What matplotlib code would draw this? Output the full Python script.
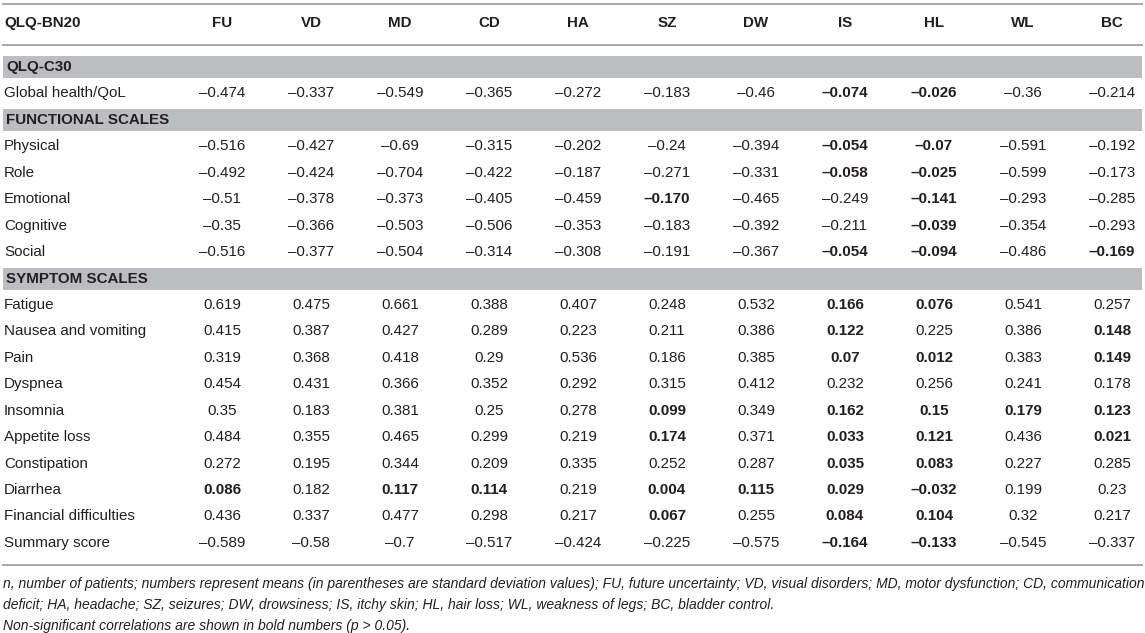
import matplotlib
matplotlib.use("Agg")
import matplotlib.pyplot as plt

plt.rcParams['font.family'] = ['Liberation Sans', 'DejaVu Sans']

# data
columns = ["FU", "VD", "MD", "CD", "HA", "SZ", "DW", "IS", "HL", "WL", "BC"]

sections = ["QLQ-C30", "FUNCTIONAL SCALES", "SYMPTOM SCALES"]

c30_labels = ["Global health/QoL"]
c30_values = [
    ["–0.474", "–0.337", "–0.549", "–0.365", "–0.272", "–0.183", "–0.46", "–0.074", "–0.026", "–0.36", "–0.214"],
]

functional_labels = ["Physical", "Role", "Emotional", "Cognitive", "Social"]
functional_values = [
    ["–0.516", "–0.427", "–0.69", "–0.315", "–0.202", "–0.24", "–0.394", "–0.054", "–0.07", "–0.591", "–0.192"],
    ["–0.492", "–0.424", "–0.704", "–0.422", "–0.187", "–0.271", "–0.331", "–0.058", "–0.025", "–0.599", "–0.173"],
    ["–0.51", "–0.378", "–0.373", "–0.405", "–0.459", "–0.170", "–0.465", "–0.249", "–0.141", "–0.293", "–0.285"],
    ["–0.35", "–0.366", "–0.503", "–0.506", "–0.353", "–0.183", "–0.392", "–0.211", "–0.039", "–0.354", "–0.293"],
    ["–0.516", "–0.377", "–0.504", "–0.314", "–0.308", "–0.191", "–0.367", "–0.054", "–0.094", "–0.486", "–0.169"],
]

symptom_labels = ["Fatigue", "Nausea and vomiting", "Pain", "Dyspnea", "Insomnia", "Appetite loss",
                  "Constipation", "Diarrhea", "Financial difficulties", "Summary score"]
symptom_values = [
    ["0.619", "0.475", "0.661", "0.388", "0.407", "0.248", "0.532", "0.166", "0.076", "0.541", "0.257"],
    ["0.415", "0.387", "0.427", "0.289", "0.223", "0.211", "0.386", "0.122", "0.225", "0.386", "0.148"],
    ["0.319", "0.368", "0.418", "0.29", "0.536", "0.186", "0.385", "0.07", "0.012", "0.383", "0.149"],
    ["0.454", "0.431", "0.366", "0.352", "0.292", "0.315", "0.412", "0.232", "0.256", "0.241", "0.178"],
    ["0.35", "0.183", "0.381", "0.25", "0.278", "0.099", "0.349", "0.162", "0.15", "0.179", "0.123"],
    ["0.484", "0.355", "0.465", "0.299", "0.219", "0.174", "0.371", "0.033", "0.121", "0.436", "0.021"],
    ["0.272", "0.195", "0.344", "0.209", "0.335", "0.252", "0.287", "0.035", "0.083", "0.227", "0.285"],
    ["0.086", "0.182", "0.117", "0.114", "0.219", "0.004", "0.115", "0.029", "–0.032", "0.199", "0.23"],
    ["0.436", "0.337", "0.477", "0.298", "0.217", "0.067", "0.255", "0.084", "0.104", "0.32", "0.217"],
    ["–0.589", "–0.58", "–0.7", "–0.517", "–0.424", "–0.225", "–0.575", "–0.164", "–0.133", "–0.545", "–0.337"],
]

# non-significant correlations (shown bold)
nonsig = {
    "Global health/QoL": ["IS", "HL"],
    "Physical": ["IS", "HL"],
    "Role": ["IS", "HL"],
    "Emotional": ["SZ", "HL"],
    "Cognitive": ["HL"],
    "Social": ["IS", "HL", "BC"],
    "Fatigue": ["IS", "HL"],
    "Nausea and vomiting": ["IS", "BC"],
    "Pain": ["IS", "HL", "BC"],
    "Insomnia": ["SZ", "IS", "HL", "WL", "BC"],
    "Appetite loss": ["SZ", "IS", "HL", "BC"],
    "Constipation": ["IS", "HL"],
    "Diarrhea": ["FU", "MD", "CD", "SZ", "DW", "IS", "HL"],
    "Financial difficulties": ["SZ", "IS", "HL"],
    "Summary score": ["IS", "HL"],
}

corner = "QLQ-BN20"
footnotes = [
    "n, number of patients; numbers represent means (in parentheses are standard deviation values); "
    "FU, future uncertainty; VD, visual disorders; MD, motor dysfunction; CD, communication",
    "deficit; HA, headache; SZ, seizures; DW, drowsiness; IS, itchy skin; HL, hair loss; "
    "WL, weakness of legs; BC, bladder control.",
    "Non-significant correlations are shown in bold numbers (p > 0.05).",
]

# layout (pixel coordinates)
W, H = 1145, 633
txt = "#231f20"
band_col = "#bcbdc0"
line_col = "#a7a9ac"
fs = 10.9
x_label = 4
x_first = 222
x_step = 89
y_first = 67
pitch = 26.44
band_h = 22

fig = plt.figure(figsize=(W / 100, H / 100), dpi=100)
fig.set_facecolor('white')
ax = fig.add_axes([0, 0, 1, 1])
ax.set_xlim(0, W)
ax.set_ylim(H, 0)
ax.axis('off')

col_x = [x_first + i * x_step for i in range(len(columns))]

# header
ax.axhline(4, xmin=3 / W, xmax=1142 / W, color=line_col, lw=1.4)
ax.axhline(45, xmin=3 / W, xmax=1142 / W, color=line_col, lw=1.4)
ax.text(x_label, 23, corner, ha='left', va='center', fontsize=fs, weight='bold', color=txt)
for x, c in zip(col_x, columns):
    ax.text(x, 23, c, ha='center', va='center', fontsize=fs, weight='bold', color=txt)

blocks = [(sections[0], c30_labels, c30_values),
          (sections[1], functional_labels, functional_values),
          (sections[2], symptom_labels, symptom_values)]

k = 0
for title, labels, values in blocks:
    y = y_first + k * pitch
    ax.axhspan(y - band_h / 2, y + band_h / 2, xmin=3 / W, xmax=1142 / W, color=band_col, lw=0)
    ax.text(x_label + 2, y, title, ha='left', va='center', fontsize=fs, weight='bold', color=txt)
    k += 1
    for lab, vals in zip(labels, values):
        y = y_first + k * pitch
        ax.text(x_label, y, lab, ha='left', va='center', fontsize=fs, color=txt)
        bold_cols = nonsig.get(lab, [])
        for x, c, v in zip(col_x, columns, vals):
            ax.text(x, y, v, ha='center', va='center', fontsize=fs, color=txt,
                    weight='bold' if c in bold_cols else 'normal')
        k += 1

y_bottom = y_first + (k - 1) * pitch + 22
ax.axhline(y_bottom, xmin=3 / W, xmax=1142 / W, color=line_col, lw=1.4)

for i, line in enumerate(footnotes):
    ax.text(3, y_bottom + 19 + i * 21, line, ha='left', va='center', fontsize=10.0,
            style='italic', color=txt)

fig.savefig("out.png", dpi=100, facecolor='white')
